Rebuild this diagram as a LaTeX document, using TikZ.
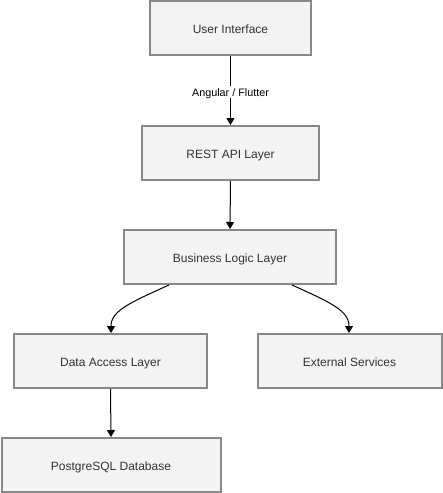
\documentclass[tikz,border=0pt]{standalone}
\usepackage{fontspec}
\setmainfont{Liberation Sans}
\usetikzlibrary{arrows.meta}
\definecolor{boxfill}{HTML}{F4F4F4}
\definecolor{boxline}{HTML}{888888}
\definecolor{txt}{HTML}{333333}
\tikzset{
  layer/.style={draw=boxline, line width=2pt, fill=boxfill, rectangle, inner sep=0pt,
    font=\fontsize{12}{14}\selectfont, text=txt, text height=10pt, text depth=0pt},
  conn/.style={draw=black, line width=1pt, -{Triangle[length=7pt,width=8pt]}},
  lbl/.style={fill=white, inner sep=1.5pt, font=\fontsize{10.8}{12}\selectfont, text=black,
    text height=9pt, text depth=0pt}
}
\begin{document}
\begin{tikzpicture}[x=1pt,y=-1pt]
\useasboundingbox (0,0) rectangle (443,493);
\node[layer, minimum width=161pt, minimum height=54pt] (ui) at (230.5,28) {User Interface};
\node[layer, minimum width=177pt, minimum height=54pt] (rest) at (230.5,153) {REST API Layer};
\node[layer, minimum width=212pt, minimum height=54pt] (bl) at (230,257) {Business Logic Layer};
\node[layer, minimum width=193pt, minimum height=54pt] (dal) at (110.5,361) {Data Access Layer};
\node[layer, minimum width=184pt, minimum height=54pt] (ext) at (349.5,361) {External Services};
\node[layer, minimum width=219pt, minimum height=54pt] (pg) at (111,465) {PostgreSQL Database};
\draw[conn] (ui.south) -- node[lbl, pos=0.52] {Angular / Flutter} (rest.north);
\draw[conn] (rest.south) -- (bl.north);
\draw[conn] ([xshift=-61pt]bl.south) .. controls +(-40,18) and +(0,-22) .. ([xshift=0.5pt]dal.north);
\draw[conn] ([xshift=62pt]bl.south) .. controls +(40,18) and +(0,-22) .. ([xshift=-0.5pt]ext.north);
\draw[conn] (dal.south) -- (pg.north);
\end{tikzpicture}
\end{document}
